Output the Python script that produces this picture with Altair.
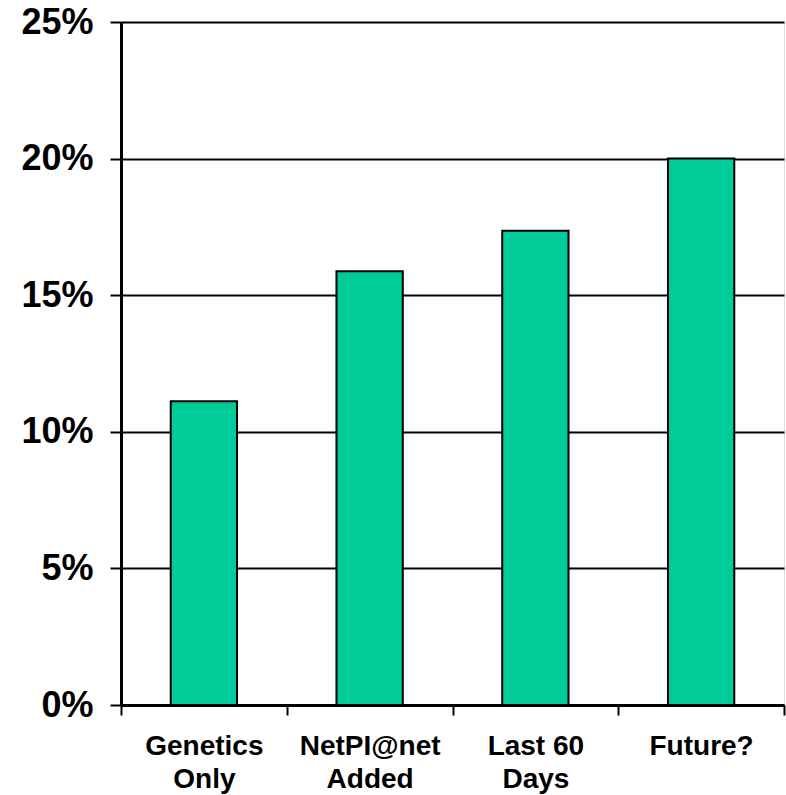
import altair as alt
import pandas as pd

categories = ["Genetics\nOnly", "NetPI@net\nAdded", "Last 60\nDays", "Future?"]
values = [0.1112, 0.1588, 0.1736, 0.2000]

df = pd.DataFrame({"cat": categories, "val": values})

FONT = "Liberation Sans"

bars = alt.Chart(df).mark_bar(
    color="#00CC99", stroke="black", strokeWidth=2,
    width=alt.RelativeBandSize(0.4)
).encode(
    x=alt.X("cat:N", sort=None, title=None,
            scale=alt.Scale(paddingInner=0, paddingOuter=0),
            axis=alt.Axis(labelExpr="split(datum.label, '\\n')",
                          labelAngle=0, labelFont=FONT, labelFontSize=28,
                          labelFontWeight="bold", labelColor="black",
                          labelLineHeight=33, labelPadding=17,
                          tickBand="extent", ticks=True, tickSize=10,
                          tickWidth=2, tickColor="black",
                          domainColor="black", domainWidth=3, grid=False)),
    y=alt.Y("val:Q", title=None,
            scale=alt.Scale(domain=[0, 0.25], nice=False),
            axis=alt.Axis(format=".0%", values=[0, 0.05, 0.10, 0.15, 0.20, 0.25],
                          labelFont=FONT, labelFontSize=36, labelFontWeight="bold",
                          labelColor="black", labelPadding=17,
                          tickSize=11, tickWidth=2, tickColor="black",
                          domainColor="black", domainWidth=3,
                          grid=True, gridColor="black", gridWidth=2, gridOpacity=1)),
)

chart = bars.properties(
    width=663, height=683,
    padding={"left": 121, "top": 22, "right": 2, "bottom": 90},
    autosize=alt.AutoSizeParams(type="none"),
).configure_view(
    stroke="black", strokeWidth=2
).configure(background="white")

chart.save("out.html", embed_options={"renderer": "svg", "actions": False})
